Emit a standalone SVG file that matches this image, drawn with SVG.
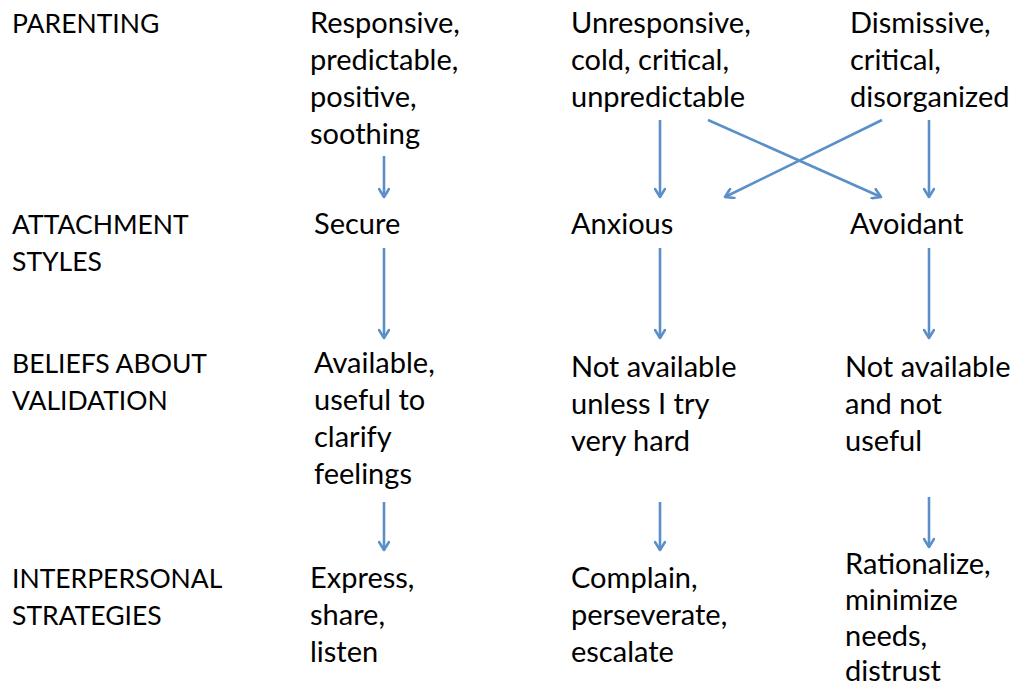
<svg xmlns="http://www.w3.org/2000/svg" width="1014" height="688" viewBox="0 0 1014 688">
<style>
text{font-family:Lato,"Open Sans","Liberation Sans",sans-serif;font-size:29px;fill:#000}
.lab text{font-size:26.5px}
.c{stroke:#5b8fc8;stroke-width:2.6;fill:none}
</style>
<defs>
<marker id="ah" viewBox="0 0 12 12" refX="10" refY="6" markerWidth="12" markerHeight="12" markerUnits="userSpaceOnUse" orient="auto">
<path d="M2,1 L10,6 L2,11" fill="none" stroke="#5b8fc8" stroke-width="2.6" stroke-linecap="round" stroke-linejoin="round"/>
</marker>
</defs>
<rect width="1014" height="688" fill="#fff"/>
<g id="row-labels" class="lab">
<text x="12" y="33">PARENTING</text>
<text x="12" y="234">ATTACHMENT</text>
<text x="12" y="271">STYLES</text>
<text x="12" y="373">BELIEFS ABOUT</text>
<text x="12" y="410">VALIDATION</text>
<text x="12" y="588">INTERPERSONAL</text>
<text x="12" y="625">STRATEGIES</text>
</g>
<g id="p-secure"><text x="310" y="33">Responsive,</text><text x="310" y="70">predictable,</text><text x="310" y="107">positive,</text><text x="310" y="144">soothing</text></g>
<g id="p-anxious"><text x="571" y="33">Unresponsive,</text><text x="571" y="70">cold, critical,</text><text x="571" y="107">unpredictable</text></g>
<g id="p-avoidant"><text x="850" y="33">Dismissive,</text><text x="850" y="70">critical,</text><text x="850" y="107">disorganized</text></g>
<g id="a-secure"><text x="314" y="234">Secure</text></g>
<g id="a-anxious"><text x="571" y="234">Anxious</text></g>
<g id="a-avoidant"><text x="850" y="234">Avoidant</text></g>
<g id="b-secure"><text x="314" y="373">Available,</text><text x="314" y="410">useful to</text><text x="314" y="447">clarify</text><text x="314" y="484">feelings</text></g>
<g id="b-anxious"><text x="571" y="377">Not available</text><text x="571" y="414">unless I try</text><text x="571" y="451">very hard</text></g>
<g id="b-avoidant"><text x="845" y="377">Not available</text><text x="845" y="414">and not</text><text x="845" y="451">useful</text></g>
<g id="s-secure"><text x="310" y="588">Express,</text><text x="310" y="625">share,</text><text x="310" y="662">listen</text></g>
<g id="s-anxious"><text x="571" y="588">Complain,</text><text x="571" y="625">perseverate,</text><text x="571" y="662">escalate</text></g>
<g id="s-avoidant"><text x="845" y="574">Rationalize,</text><text x="845" y="610">minimize</text><text x="845" y="646">needs,</text><text x="845" y="681">distrust</text></g>
<g id="connectors" class="c">
<line x1="384" y1="156" x2="384" y2="197" marker-end="url(#ah)"/>
<line x1="660" y1="120" x2="660" y2="197" marker-end="url(#ah)"/>
<line x1="708" y1="120" x2="881" y2="197" marker-end="url(#ah)"/>
<line x1="882" y1="120" x2="725" y2="197" marker-end="url(#ah)"/>
<line x1="929" y1="120" x2="929" y2="197" marker-end="url(#ah)"/>
<line x1="384" y1="248" x2="384" y2="338" marker-end="url(#ah)"/>
<line x1="660" y1="248" x2="660" y2="338" marker-end="url(#ah)"/>
<line x1="929" y1="248" x2="929" y2="338" marker-end="url(#ah)"/>
<line x1="384" y1="502" x2="384" y2="550" marker-end="url(#ah)"/>
<line x1="660" y1="502" x2="660" y2="550" marker-end="url(#ah)"/>
<line x1="929" y1="497" x2="929" y2="547" marker-end="url(#ah)"/>
</g>
</svg>
